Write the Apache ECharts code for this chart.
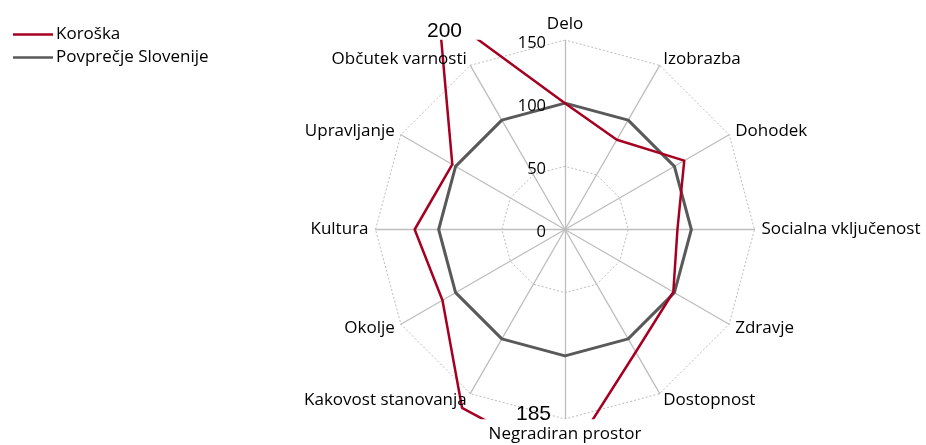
<!DOCTYPE html>
<html>
<head>
<meta charset="utf-8">
<script src="https://cdn.jsdelivr.net/npm/echarts@6/dist/echarts.min.js"></script>
<style>
html,body{margin:0;padding:0;background:#fff;}
#chart{width:926px;height:445px;}
</style>
</head>
<body>
<div id="chart"></div>
<script>
// Categories in clockwise order starting at the top
const categories = ['Delo','Izobrazba','Dohodek','Socialna vključenost','Zdravje','Dostopnost','Negradiran prostor','Kakovost stanovanja','Okolje','Kultura','Upravljanje','Občutek varnosti'];
const koroska = [100, 82, 109, 89, 99, 112, 185, 163, 112, 119, 103, 200];
const slovenija = [100, 100, 100, 100, 100, 100, 100, 100, 100, 100, 100, 100];
const seriesNames = ['Koroška', 'Povprečje Slovenije'];
const axisMax = 150;
const overflowLabels = [{ text: '200', cat: 'Občutek varnosti' }, { text: '185', cat: 'Negradiran prostor' }];

// ECharts lays radar indicators counter-clockwise; reorder to get clockwise layout
function cw(arr) { return [arr[0]].concat(arr.slice(1).reverse()); }

const CX = 565, CY = 229.5, R = 189.5;
const FONT = '"Open Sans", "Noto Sans", sans-serif';

function indicators(withLabels) {
  return cw(categories).map((c, i) => {
    const o = { name: c, max: axisMax, min: 0 };
    if (withLabels && i === 0) {
      o.axisLabel = {
        show: true, margin: 19, hideOverlap: false, showMinLabel: true, showMaxLabel: true,
        formatter: '{t|{value}}',
        rich: { t: { color: '#000', fontSize: 16.5, fontFamily: FONT, padding: [6, 0, 0, 0] } }
      };
    }
    return o;
  });
}

const chart = echarts.init(document.getElementById('chart'), null, { renderer: 'canvas' });
chart.setOption({
  animation: false,
  backgroundColor: '#fff',
  legend: {
    orient: 'vertical',
    left: 8, top: 21,
    icon: 'rect',
    itemWidth: 40, itemHeight: 2.5,
    itemGap: 6,
    textStyle: { color: '#000', fontSize: 17, fontFamily: FONT, padding: [0, 0, 0, -2] },
    data: seriesNames
  },
  radar: [
    {
      center: [CX, CY], radius: R, startAngle: 90, splitNumber: 3, shape: 'polygon', z: 1,
      indicator: indicators(false),
      axisName: { show: false },
      axisLine: { lineStyle: { color: '#BDBDBD', width: 1.3 } },
      splitLine: { lineStyle: { color: '#BDBDBD', width: 1, type: [2, 2] } },
      splitArea: { show: false },
      axisTick: { show: false },
      axisLabel: { show: false }
    },
    {
      center: [CX, CY], radius: R, startAngle: 90, splitNumber: 3, shape: 'polygon', z: 4,
      indicator: indicators(true),
      nameGap: 7,
      axisName: { show: true, color: '#000', fontSize: 17, fontFamily: FONT },
      axisLine: { show: false },
      splitLine: { show: false },
      splitArea: { show: false },
      axisTick: { show: false },
      axisLabel: { show: false }
    }
  ],
  graphic: [
    { type: 'rect', z: 3, silent: true, shape: { x: 380, y: 0, width: 400, height: CY - R - 0.3 }, style: { fill: '#fff' } },
    { type: 'rect', z: 3, silent: true, shape: { x: 380, y: CY + R + 0.3, width: 400, height: 60 }, style: { fill: '#fff' } },
    { type: 'text', z: 5, left: 427, top: 21, style: { text: overflowLabels[0].text, fill: '#000', font: '21px "Liberation Sans", Arial, sans-serif' } },
    { type: 'text', z: 5, left: 516, top: 404, style: { text: overflowLabels[1].text, fill: '#000', font: '21px "Liberation Sans", Arial, sans-serif' } }
  ],
  series: [
    {
      type: 'radar', radarIndex: 0, z: 2,
      symbol: 'none',
      data: [
        { name: seriesNames[1], value: cw(slovenija), lineStyle: { color: '#595959', width: 3 }, itemStyle: { color: '#595959' } },
        { name: seriesNames[0], value: cw(koroska), lineStyle: { color: '#A50021', width: 2.5 }, itemStyle: { color: '#A50021' } }
      ]
    }
  ]
});
</script>
</body>
</html>
